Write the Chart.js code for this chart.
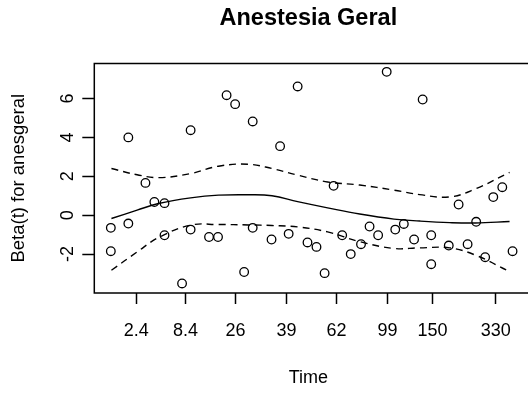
<!DOCTYPE html>
<html lang="pt">
<head>
    <meta charset="UTF-8">
    <title>Anestesia Geral</title>
    <script src="https://cdn.jsdelivr.net/npm/chart.js"></script>
    <style>
        body { margin: 0; padding: 0; background: white; }
        #wrap { width: 528px; height: 394px; }
    </style>
</head>
<body>
    <div id="wrap"><canvas id="zph"></canvas></div>

    <script>
        // eixo x transformado (escala km), rotulos em tempo
        const xMin = 0, xMax = 100;
        const xTickPos = [9.8, 21.3, 33.0, 44.9, 56.6, 68.5, 79.0, 93.8];
        const xTickLabels = ['2.4', '8.4', '26', '39', '62', '99', '150', '330'];
        const yMin = -4.0, yMax = 7.8;
        const yTicks = [-2, 0, 2, 4, 6];

        // residuos escalonados de Schoenfeld
        const residX = [3.86, 3.86, 7.95, 7.95, 11.95, 14.03, 16.4, 16.4, 20.5, 22.5, 22.5, 26.8, 28.9, 30.9, 32.9, 35.0,
                        37.0, 37.0, 41.4, 43.4, 45.4, 47.5, 49.8, 51.9, 53.8, 55.9, 57.9, 59.9, 62.3, 64.3, 66.3, 68.3,
                        70.3, 72.3, 74.7, 76.7, 78.7, 78.7, 82.8, 85.1, 87.2, 89.2, 91.3, 93.2, 95.3, 97.7];
        const residY = [-0.65, -1.85, 4.00, -0.43, 1.66, 0.68, 0.62, -1.03, -3.51, 4.37, -0.74, -1.12, -1.12, 6.17, 5.71, -2.92,
                        4.82, -0.65, -1.25, 3.55, -0.96, 6.62, -1.40, -1.63, -2.98, 1.51, -1.03, -2.00, -1.49, -0.58, -1.03, 7.37,
                        -0.74, -0.45, -1.25, 5.95, -1.03, -2.52, -1.56, 0.55, -1.49, -0.34, -2.16, 0.93, 1.44, -1.85];

        // curva suavizada e banda de confianca
        const curveX = [4, 10, 15, 22.5, 29, 36, 41.5, 47.5, 54.5, 62, 70, 76, 83, 89, 97];
        const fitY   = [-0.17, 0.26, 0.60, 0.89, 1.03, 1.05, 1.00, 0.70, 0.38, 0.06, -0.20, -0.30, -0.38, -0.40, -0.32];
        const upperY = [2.40, 2.08, 1.93, 2.14, 2.52, 2.62, 2.40, 2.06, 1.71, 1.55, 1.29, 1.06, 0.94, 1.35, 2.20];
        const lowerY = [-2.83, -1.89, -1.15, -0.51, -0.48, -0.50, -0.53, -0.60, -0.86, -1.36, -1.71, -1.68, -1.68, -2.05, -2.90];

        const fam = '"Liberation Sans", Arial, Helvetica, sans-serif';
        const pts = (xs, ys) => xs.map((x, i) => ({ x: x, y: ys[i] }));

        // caixa do grafico (lado direito fica fora da imagem)
        const boxPlugin = {
            id: 'box',
            afterDraw(chart) {
                const a = chart.chartArea, ctx = chart.ctx;
                ctx.save();
                ctx.strokeStyle = '#000';
                ctx.lineWidth = 1.5;
                ctx.strokeRect(a.left, a.top, a.right - a.left + 20, a.bottom - a.top);
                ctx.restore();
            }
        };

        const curveStyle = { showLine: true, pointRadius: 0, borderColor: '#000', borderWidth: 1.4, tension: 0.4, fill: false };

        new Chart(document.getElementById('zph'), {
            type: 'scatter',
            data: {
                datasets: [
                    { data: pts(residX, residY), pointStyle: 'circle', pointRadius: 4.3, pointBorderWidth: 1.3,
                      borderColor: '#000', backgroundColor: 'rgba(0,0,0,0)' },
                    Object.assign({ data: pts(curveX, fitY) }, curveStyle),
                    Object.assign({ data: pts(curveX, upperY), borderDash: [7, 5] }, curveStyle),
                    Object.assign({ data: pts(curveX, lowerY), borderDash: [7, 5] }, curveStyle)
                ]
            },
            options: {
                responsive: true,
                maintainAspectRatio: false,
                animation: false,
                layout: { padding: 0 },
                plugins: {
                    legend: { display: false },
                    tooltip: { enabled: false },
                    title: {
                        display: true, text: 'Anestesia Geral', fullSize: false, color: '#000',
                        font: { family: fam, size: 23.5, weight: 'bold', lineHeight: 1.2 },
                        padding: { top: 4.9, bottom: 30.4 }
                    }
                },
                scales: {
                    x: {
                        type: 'linear', min: xMin, max: xMax,
                        afterBuildTicks: s => { s.ticks = xTickPos.map(v => ({ value: v })); },
                        afterFit: s => { s.height = 101; },
                        ticks: {
                            autoSkip: false, maxRotation: 0, color: '#000', padding: 16,
                            font: { family: fam, size: 18 },
                            callback: (v, i) => xTickLabels[i]
                        },
                        grid: { drawOnChartArea: false, tickLength: 11, tickColor: '#000', tickWidth: 1.5 },
                        border: { display: false },
                        title: { display: true, text: 'Time', color: '#000', font: { family: fam, size: 18 },
                                 padding: { top: 0, bottom: 5 } }
                    },
                    y: {
                        type: 'linear', min: yMin, max: yMax,
                        afterBuildTicks: s => { s.ticks = yTicks.map(v => ({ value: v })); },
                        afterFit: s => { s.width = 94.3; },
                        ticks: {
                            color: '#000', padding: 6, minRotation: 90, maxRotation: 90, crossAlign: 'center',
                            font: { family: fam, size: 18 }
                        },
                        grid: { drawOnChartArea: false, tickLength: 12, tickColor: '#000', tickWidth: 1.5 },
                        border: { display: false },
                        title: { display: true, text: 'Beta(t) for anesgeral', color: '#000', font: { family: fam, size: 18.5 },
                                 padding: { top: 8, bottom: 0 } }
                    }
                }
            },
            plugins: [boxPlugin]
        });
    </script>
</body>
</html>
